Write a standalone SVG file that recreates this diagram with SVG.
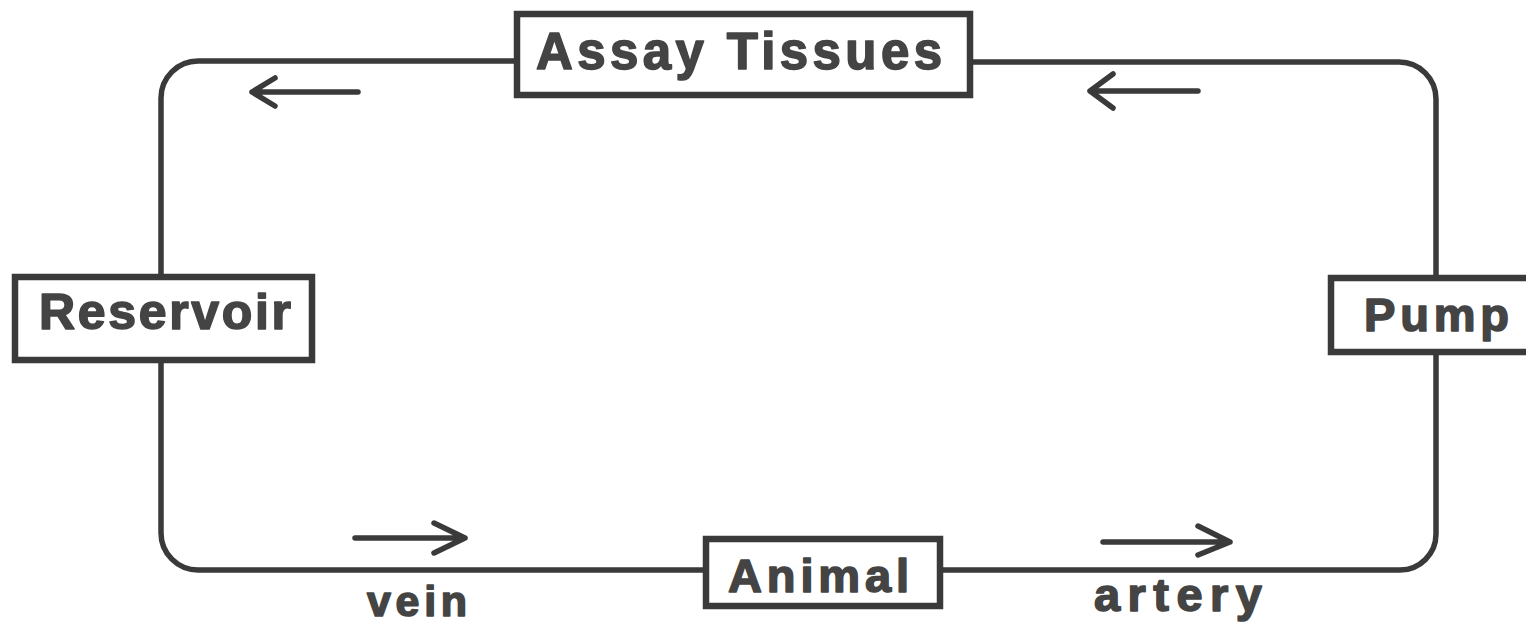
<svg xmlns="http://www.w3.org/2000/svg" width="1526" height="630" viewBox="0 0 1526 630">
<style>
.box{fill:#fff;stroke:#3a3a3a;stroke-width:6.5}
.pipe{fill:none;stroke:#3a3a3a;stroke-width:5.5;stroke-linecap:round}
.arr{fill:none;stroke:#3a3a3a;stroke-width:5.5;stroke-linecap:round;stroke-linejoin:round}
.lbl{font-family:"Liberation Sans",Arial,sans-serif;font-weight:bold;fill:#444;stroke:#444;stroke-width:1.6;stroke-linejoin:round}
</style>
<rect width="1526" height="630" fill="#fff"/>
<g id="connectors">
<path class="pipe" d="M517 61 L198 61 A37 37 0 0 0 161 98 L161 277"/>
<path class="pipe" d="M161 360 L161 533 A37 37 0 0 0 198 570 L706 570"/>
<path class="pipe" d="M940 570 L1400 570 A36 36 0 0 0 1436 534 L1436 352"/>
<path class="pipe" d="M1436 278 L1436 99 A37 37 0 0 0 1399 62 L970 62"/>
<path class="arr" d="M358 92 L252 92 M275 78 L252 92 L275 106"/>
<path class="arr" d="M1198 91 L1090 91 M1113 74 L1090 91 L1113 108"/>
<path class="arr" d="M355 538 L465 538 M434 523 L465 538 L434 553"/>
<path class="arr" d="M1103 542 L1230 542 M1198 526 L1230 542 L1198 555"/>
</g>
<g id="assay">
<rect class="box" x="517" y="14" width="453" height="81"/>
<text class="lbl" x="536" y="69" font-size="51" textLength="406" lengthAdjust="spacing">Assay Tissues</text>
</g>
<g id="reservoir">
<rect class="box" x="15" y="277" width="297" height="83"/>
<text class="lbl" x="39" y="329" font-size="50" textLength="252" lengthAdjust="spacing">Reservoir</text>
</g>
<g id="pump">
<rect class="box" x="1331" y="278" width="210" height="74"/>
<text class="lbl" x="1364" y="331" font-size="47" textLength="145" lengthAdjust="spacing">Pump</text>
</g>
<g id="animal">
<rect class="box" x="706" y="539" width="234" height="67"/>
<text class="lbl" x="728" y="592" font-size="47" textLength="181" lengthAdjust="spacing">Animal</text>
</g>
<g id="labels">
<text class="lbl" x="367" y="616" font-size="43" textLength="100" lengthAdjust="spacing">vein</text>
<text class="lbl" x="1094" y="611" font-size="47" textLength="168" lengthAdjust="spacing">artery</text>
</g>
</svg>
